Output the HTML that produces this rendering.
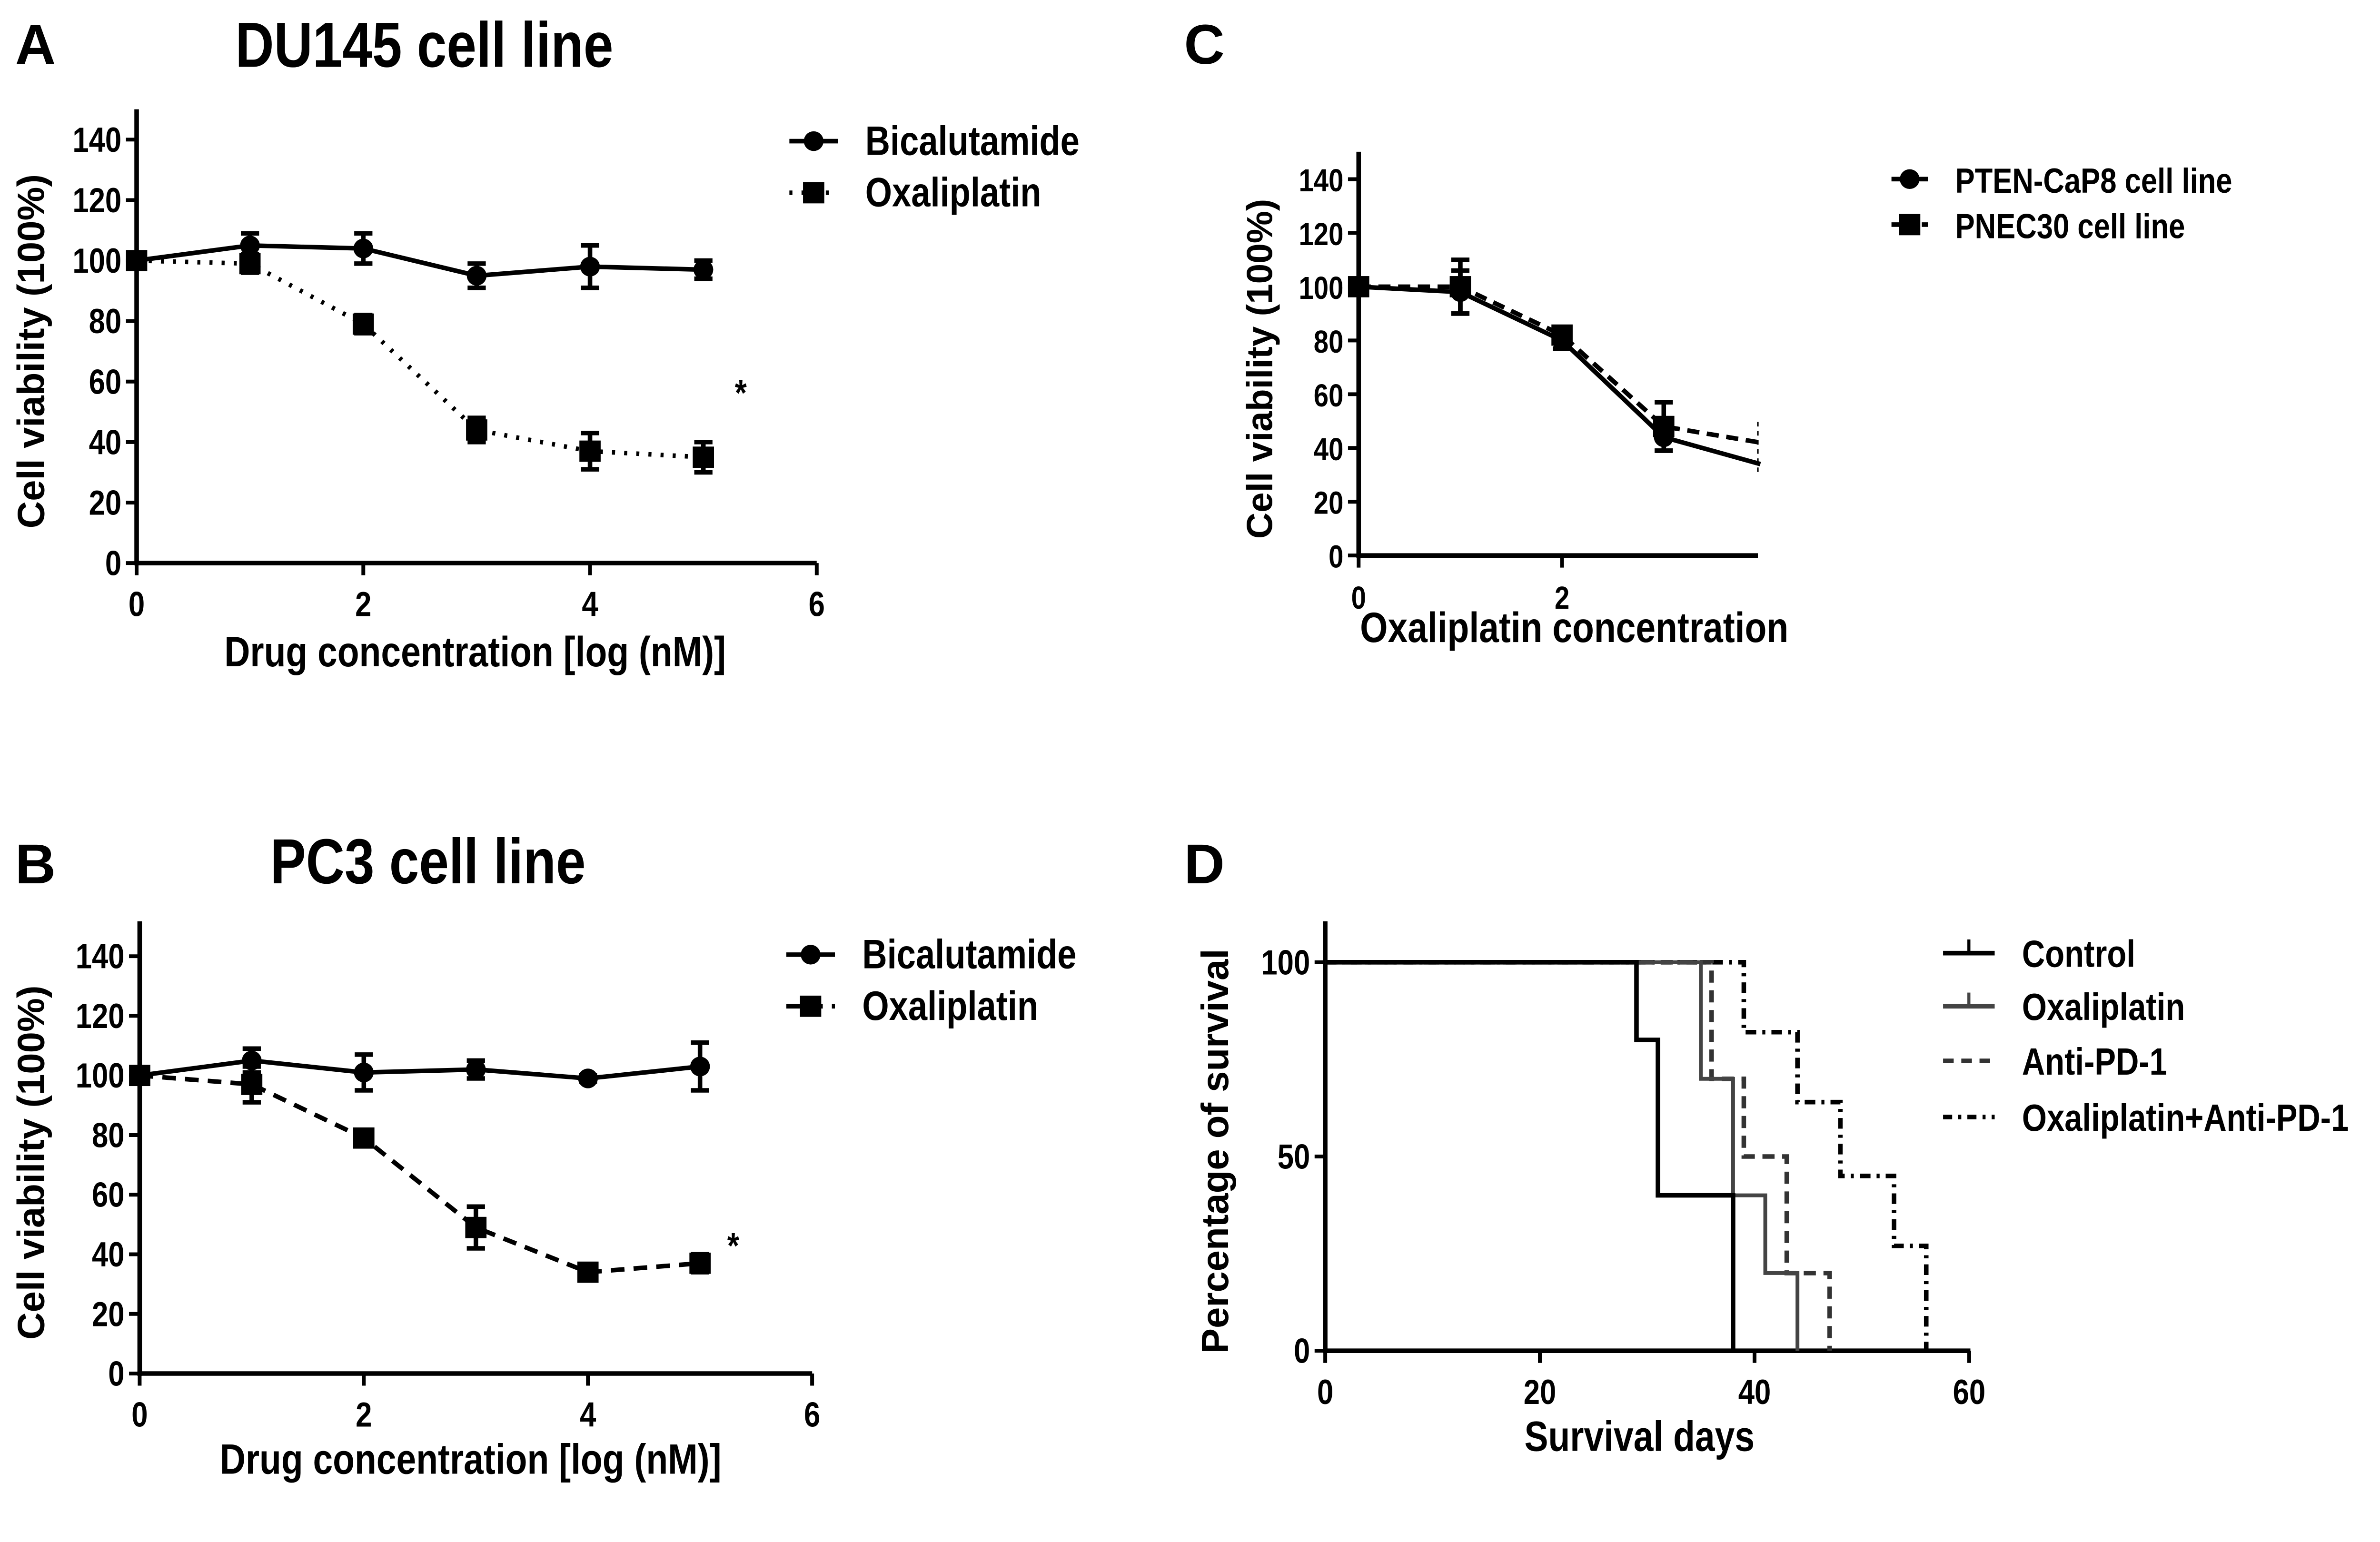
<!DOCTYPE html>
<html><head><meta charset="utf-8">
<style>
html,body{margin:0;padding:0;background:#fff;}
svg{display:block;}
text{font-family:"Liberation Sans Narrow","Liberation Sans",sans-serif;font-weight:bold;fill:#000;}
.yl{font-family:"Liberation Sans",sans-serif;}
</style></head>
<body>
<svg id="fig" width="5160" height="3240" viewBox="0 0 1618 1016" preserveAspectRatio="none" xmlns="http://www.w3.org/2000/svg">
<text x="10" y="42" font-size="37">A</text>
<text x="10" y="582" font-size="37">B</text>
<text x="780" y="42" font-size="37">C</text>
<text x="780" y="582" font-size="37">D</text>
<g id="g"></g>
</svg>
<script>
// Panel A data
const concA = [0,1,2,3,4,5];
const bicaA = [100,105,104,95,98,97];
const bicaAerr = [2,4,5,4,7,3];
const oxaA = [100,99,79,44,37,35];
const oxaAerr = [2,3,3,4,6,5];
// Panel B data
const concB = [0,1,2,3,4,5];
const bicaB = [100,105,101,102,99,103];
const bicaBerr = [2,4,6,3,1,8];
const oxaB = [100,97,79,49,34,37];
const oxaBerr = [2,6,1,7,2,3];
// Panel C data
const concC = [0,1,2,3,3.95];
const ptenC = [100,98,80,44,34];
const ptenCerr = [2,8,3,5,0];
const pnecC = [100,100,82,48,42];
const pnecCerr = [2,10,2,9,0];
const yTicksAB = [0,20,40,60,80,100,120,140];
const xTicksAB = [0,2,4,6];
const xTicksC = [0,2];
// Panel D survival data (step points)
const ctrlDays = [0,29,31,38];
const ctrlSurv = [100,80,40,0];
const oxaDays = [0,35,38,41,44];
const oxaSurv = [100,70,40,20,0];
const pd1Days = [0,36,39,43,47];
const pd1Surv = [100,70,50,20,0];
const comboDays = [0,39,44,48,53,56];
const comboSurv = [100,82,64,45,27,0];
const xTicksD = [0,20,40,60];
const yTicksD = [0,50,100];

const NS="http://www.w3.org/2000/svg";
const G=document.getElementById('g');
const SQ=0.84;
function el(tag,attrs,parent){const e=document.createElementNS(NS,tag);for(const k in attrs)e.setAttribute(k,attrs[k]);(parent||G).appendChild(e);return e;}
function txt(x,y,s,size,anchor,parent){const t=el('text',{x:0,y:0,'font-size':size,'text-anchor':anchor||'start',transform:'translate('+x+','+y+') scale('+SQ+',1)'},parent);t.textContent=s;return t;}

const tA=txt(155,44,'DU145 cell line',42,'start');


const tB=txt(178,582,'PC3 cell line',42,'start');



function axes(p,xt,yt,ylabel,xlabel,name){
  const g=el('g',{});
  
  
  el('line',{x1:p.x0,y1:p.top,x2:p.x0,y2:p.y0+1.5,stroke:'#000','stroke-width':3},g);
  el('line',{x1:p.x0-1.5,y1:p.y0,x2:p.xend,y2:p.y0,stroke:'#000','stroke-width':3},g);
  yt.forEach(v=>{const y=p.sy(v);el('line',{x1:p.x0-7,y1:y,x2:p.x0,y2:y,stroke:'#000','stroke-width':2.5},g);txt(p.x0-10,y+8,String(v),p.fs,'end',g);});
  xt.forEach(v=>{const x=p.sx(v);el('line',{x1:x,y1:p.y0,x2:x,y2:p.y0+8,stroke:'#000','stroke-width':2.5},g);txt(x,p.y0+35,String(v),p.fs,'middle',g);});
  const yl=el('text',{x:0,y:0,'font-size':p.lfs,'text-anchor':'middle',class:'yl',transform:'translate('+p.ylx+','+((p.top+p.y0)/2+10)+') rotate(-90)'},g);
  yl.textContent=ylabel;
  txt(p.xlx,p.xly,xlabel,p.xfs||28,'middle',g);
}
function series(p,xs,ys,errs,marker,dash,name){
  const g=el('g',{});
  
  
  const pts=xs.map((x,i)=>p.sx(x)+','+p.sy(ys[i])).join(' ');
  el('polyline',{points:pts,fill:'none',stroke:'#000','stroke-width':3,'stroke-dasharray':dash||'none'},g);
  xs.forEach((x,i)=>{
    const cx=p.sx(x),cy=p.sy(ys[i]);
    if(errs&&errs[i]>0){const e1=p.sy(ys[i]+errs[i]),e2=p.sy(ys[i]-errs[i]);
      el('line',{x1:cx,y1:e1,x2:cx,y2:e2,stroke:'#000','stroke-width':3},g);
      el('line',{x1:cx-6,y1:e1,x2:cx+6,y2:e1,stroke:'#000','stroke-width':3},g);
      el('line',{x1:cx-6,y1:e2,x2:cx+6,y2:e2,stroke:'#000','stroke-width':3},g);}
    if(p.noLastMarker&&i===xs.length-1)return;
    if(marker==='c')el('circle',{cx:cx,cy:cy,r:6.5,fill:'#000'},g);
    else el('rect',{x:cx-7,y:cy-7,width:14,height:14,fill:'#000'},g);
  });
}
function legend(x,y,label,marker,dash,size,name,color,w){
  const g=el('g',{});
  
  
  el('line',{x1:x,y1:y,x2:x+(w||32),y2:y,stroke:color||'#000','stroke-width':3,'stroke-dasharray':dash||'none'},g);
  const m=x+(w||32)/2;
  if(marker==='c')el('circle',{cx:m,cy:y,r:6.5,fill:'#000'},g);
  else if(marker==='s')el('rect',{x:m-7,y:y-7,width:14,height:14,fill:'#000'},g);
  else if(marker==='t')el('line',{x1:m,y1:y-9,x2:m,y2:y,stroke:color||'#000','stroke-width':2},g);
  txt(x+(w||32)+18,y+9,label,size,'start',g);
}
// Panel A
const pA={x0:90,y0:371,top:72,xend:538,sx:v=>90+v*74.67,sy:v=>371-v*1.993,fs:23,lfs:25,ylx:29,xlx:313,xly:439};
axes(pA,xTicksAB,yTicksAB,'Cell viability (100%)','Drug concentration [log (nM)]','panel-a');
series(pA,concA,oxaA,oxaAerr,'s','2 6','panel-a-oxaliplatin');
series(pA,concA,bicaA,bicaAerr,'c',null,'panel-a-bicalutamide');
txt(488,267,'*',24,'middle');
legend(520,93,'Bicalutamide','c',null,27,'legend-a-bicalutamide');
legend(520,127,'Oxaliplatin','s','2 6',27,'legend-a-oxaliplatin');
// Panel B
const pB={x0:92,y0:905,top:607,xend:535,sx:v=>92+v*73.83,sy:v=>905-v*1.964,fs:23,lfs:25,ylx:29,xlx:310,xly:971};
axes(pB,xTicksAB,yTicksAB,'Cell viability (100%)','Drug concentration [log (nM)]','panel-b');
series(pB,concB,oxaB,oxaBerr,'s','9 6','panel-b-oxaliplatin');
series(pB,concB,bicaB,bicaBerr,'c',null,'panel-b-bicalutamide');
txt(483,829,'*',24,'middle');
legend(518,629,'Bicalutamide','c',null,27,'legend-b-bicalutamide');
legend(518,663,'Oxaliplatin','s','9 6',27,'legend-b-oxaliplatin');
// Panel C
const pC={x0:895,y0:366,top:100,xend:1158,noLastMarker:true,sx:v=>895+v*67,sy:v=>366-v*1.771,fs:21,lfs:24,xfs:28,ylx:838,xlx:1037,xly:423};
axes(pC,xTicksC,yTicksAB,'Cell viability (100%)','Oxaliplatin concentration','panel-c');
el('line',{x1:1158,y1:278,x2:1158,y2:312,stroke:'#000','stroke-width':1,'stroke-dasharray':'3 3'});
series(pC,concC,pnecC,pnecCerr,'s','8 5','panel-c-pnec30');
series(pC,concC,ptenC,ptenCerr,'c',null,'panel-c-pten-cap8');
legend(1246,118,'PTEN-CaP8 cell line','c',null,23,'legend-c-pten-cap8',null,24);
legend(1246,148,'PNEC30 cell line','s','6 4',23,'legend-c-pnec30',null,24);
// Panel D
const pD={x0:873,y0:890,top:607,xend:1298,sx:v=>873+v*7.07,sy:v=>890-v*2.56,fs:23,lfs:25,ylx:809,xlx:1080,xly:956};
axes(pD,xTicksD,yTicksD,'Percentage of survival','Survival days','panel-d');
function km(days,surv,color,dash,w,name){
  let d='M'+pD.sx(days[0])+','+pD.sy(surv[0]);
  for(let i=1;i<days.length;i++){d+=' H'+pD.sx(days[i])+' V'+pD.sy(surv[i]);}
  const p=el('path',{d:d,fill:'none',stroke:color,'stroke-width':w,'stroke-dasharray':dash||'none'});
  
  
}
km(comboDays,comboSurv,'#000','7 4 2 4',3,'km-oxaliplatin-anti-pd1');
km(pd1Days,pd1Surv,'#333','8 5',3,'km-anti-pd1');
km(oxaDays,oxaSurv,'#444',null,2.5,'km-oxaliplatin');
km(ctrlDays,ctrlSurv,'#000',null,3,'km-control');
legend(1280,628,'Control','t',null,25,'legend-d-control','#000',34);
legend(1280,663,'Oxaliplatin','t',null,25,'legend-d-oxaliplatin','#444',34);
legend(1280,699,'Anti-PD-1',null,'7 5',25,'legend-d-anti-pd1','#333',34);
legend(1280,736,'Oxaliplatin+Anti-PD-1',null,'6 4 2 4',25,'legend-d-combo','#000',34);
</script>
</body></html>
